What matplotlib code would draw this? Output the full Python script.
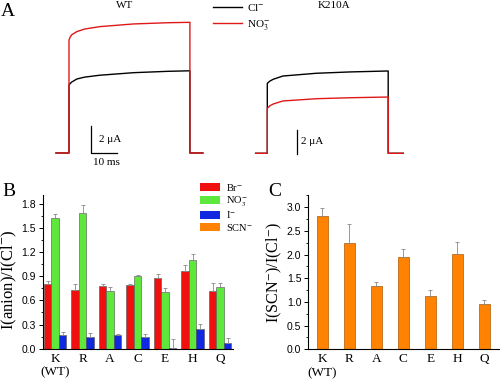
import numpy as np
import matplotlib
matplotlib.use('Agg')
import matplotlib.pyplot as plt
from matplotlib.patches import Patch
from matplotlib.ticker import MultipleLocator

plt.rcParams['font.family'] = ['Liberation Serif', 'DejaVu Serif']
plt.rcParams['mathtext.fontset'] = 'stix'

# panel A traces (time in ms from pulse onset, current in uA)
wt_t = [-5, 0, 0, 0.5, 1, 3, 6, 11.8, 24.9, 38, 46.5, 46.5, 51.5]
wt_cl = [0, 0, 5.04, 5.15, 5.25, 5.48, 5.62, 5.76, 5.95, 6.05, 6.09, 0, 0]
wt_no3 = [0, 0, 8.37, 8.6, 8.75, 8.99, 9.18, 9.36, 9.56, 9.65, 9.68, 0, 0]

k_t = [-4.5, 0, 0, 1, 2.3, 6.0, 18.9, 31.8, 46.5, 46.5, 52.3]
k_cl = [0, 0, 5.83, 6.02, 6.17, 6.44, 6.67, 6.78, 6.86, 0, 0]
k_no3 = [0, 0, 3.75, 3.96, 4.11, 4.36, 4.55, 4.63, 4.69, 0, 0]

# panel B
mutants = ['K\n(WT)', 'R', 'A', 'C', 'E', 'H', 'Q']
br = [0.81, 0.73, 0.78, 0.79, 0.88, 0.96, 0.72]
br_err = [0.03, 0.08, 0.03, 0.02, 0.05, 0.08, 0.10]
no3 = [1.63, 1.69, 0.72, 0.90, 0.71, 1.10, 0.77]
no3_err = [0.04, 0.10, 0.05, 0.02, 0.04, 0.08, 0.05]
iod = [0.17, 0.15, 0.17, 0.14, 0.01, 0.24, 0.07]
iod_err = [0.04, 0.04, 0.01, 0.04, 0.11, 0.07, 0.06]

# panel C
scn = [2.81, 2.25, 1.34, 1.95, 1.12, 2.01, 0.95]
scn_err = [0.17, 0.39, 0.08, 0.16, 0.13, 0.26, 0.10]

c_br, c_no3, c_i, c_scn = '#f01010', '#5fe83c', '#1028e0', '#ff8200'

fig = plt.figure(figsize=(5, 3.81), dpi=100)

# ---- panel A ----
top_h = 170 / 381
ax_wt = fig.add_axes([0, 1 - top_h, 0.5, top_h])
ax_wt.set_xlim(-69 / 2.6, (250 - 69) / 2.6)
ax_wt.set_ylim(-17 / 13.5, 153 / 13.5)
ax_wt.axis('off')
l_cl, = ax_wt.plot(wt_t, wt_cl, color='black', lw=1.0)
l_no3, = ax_wt.plot(wt_t, wt_no3, color='#e01818', lw=1.0)
ax_wt.plot([8.5, 8.5, 18.5], [2, 0, 0], color='black', lw=0.9)
ax_wt.text(11.5, 1.0, '2 μA', fontsize=8, ha='left', va='center', family=['Liberation Serif', 'DejaVu Sans'])
ax_wt.text(9.2, -0.67, '10 ms', fontsize=8, ha='left', va='center')

ax_k = fig.add_axes([0.5, 1 - top_h, 0.5, top_h])
ax_k.set_xlim(-(267.3 - 250) / 2.6, (500 - 267.3) / 2.6)
ax_k.set_ylim(-(170 - 153.3) / 12, 153.3 / 12)
ax_k.axis('off')
ax_k.plot(k_t, k_cl, color='black', lw=1.0)
ax_k.plot(k_t, k_no3, color='#e01818', lw=1.0)
ax_k.plot([11.4, 11.4], [-0.05, 1.95], color='black', lw=0.9)
ax_k.text(13.0, 1.0, '2 μA', fontsize=8, ha='left', va='center', family=['Liberation Serif', 'DejaVu Sans'])

fig.text(8 / 500, 1 - 12 / 381, 'A', fontsize=14, ha='center', va='center')
fig.text(125 / 500, 1 - 6 / 381, 'WT', fontsize=8, ha='center', va='center')
fig.text(334 / 500, 1 - 6 / 381, 'K210A', fontsize=8, ha='center', va='center')
fig.legend([l_cl, l_no3], ['Cl$^{-}$', 'NO$_3^{-}$'], loc='upper left',
           bbox_to_anchor=(213 / 500, 1 - 2 / 381), frameon=False, fontsize=8,
           handlelength=2.6, handletextpad=0.5, labelspacing=0.45, borderpad=0,
           borderaxespad=0)

# ---- panel B ----
x = np.arange(len(mutants))
w = 0.27
axB = fig.add_axes([43 / 500, 1 - 348.7 / 381, 190 / 500, (348.7 - 195) / 381])
for off, vals, errs, col in [(-w, br, br_err, c_br), (0, no3, no3_err, c_no3), (w, iod, iod_err, c_i)]:
    axB.bar(x + off, vals, width=w, color=col, edgecolor='#505050', linewidth=0.4, zorder=2)
    axB.errorbar(x + off, vals, yerr=[np.zeros(len(vals)), errs], fmt='none',
                 ecolor='#888888', elinewidth=0.6, capsize=1.5, capthick=0.6, zorder=3)
axB.set_xlim(-0.44, 6.47)
axB.set_ylim(0, 1.91)
axB.yaxis.set_major_locator(MultipleLocator(0.3))
axB.yaxis.set_minor_locator(MultipleLocator(0.15))
axB.set_xticks(x)
axB.set_xticklabels(mutants, fontsize=9.5, linespacing=1.15)
axB.tick_params(axis='x', length=0, pad=3)
axB.tick_params(axis='y', labelsize=7.5, length=3, width=0.7, pad=2)
axB.tick_params(axis='y', which='minor', length=1.8, width=0.6)
axB.set_yticklabels([f'{v:.1f}' for v in axB.get_yticks()])
for lab in axB.get_yticklabels():
    lab.set_family('Liberation Sans')
for s in ['top', 'right']:
    axB.spines[s].set_visible(False)
for s in ['left', 'bottom']:
    axB.spines[s].set_linewidth(0.8)
axB.set_ylabel('I(anion)/I(Cl$^{-}$)', fontsize=12)
axB.yaxis.set_label_coords(-0.125, 0.45)
fig.text(9 / 500, 1 - 191 / 381, 'B', fontsize=14, ha='center', va='center')

handles = [Patch(facecolor=c, edgecolor='none') for c in [c_br, c_no3, c_i, c_scn]]
fig.legend(handles, ['Br$^{-}$', 'NO$_3^{-}$', 'I$^{-}$', 'SCN$^{-}$'], loc='upper left',
           bbox_to_anchor=(200 / 500, 1 - 182 / 381), frameon=False, fontsize=7.5,
           handlelength=1.9, handleheight=0.8, handletextpad=0.6, labelspacing=0.12,
           borderpad=0, borderaxespad=0)

# ---- panel C ----
axC = fig.add_axes([308.3 / 500, 1 - 349.3 / 381, 191.5 / 500, (349.3 - 195) / 381])
axC.bar(x, scn, width=0.41, color=c_scn, edgecolor='#b05a00', linewidth=0.5, zorder=2)
axC.errorbar(x, scn, yerr=[np.zeros(len(scn)), scn_err], fmt='none',
             ecolor='#888888', elinewidth=0.6, capsize=1.5, capthick=0.6, zorder=3)
axC.set_xlim(-0.51, 6.57)
axC.set_ylim(0, 3.26)
axC.yaxis.set_major_locator(MultipleLocator(0.5))
axC.yaxis.set_minor_locator(MultipleLocator(0.25))
axC.set_xticks(x)
axC.set_xticklabels(mutants, fontsize=9.5, linespacing=1.15)
axC.tick_params(axis='x', length=0, pad=3)
axC.tick_params(axis='y', labelsize=7.5, length=3, width=0.7, pad=2)
axC.tick_params(axis='y', which='minor', length=1.8, width=0.6)
for lab in axC.get_yticklabels():
    lab.set_family('Liberation Sans')
for s in ['top', 'right']:
    axC.spines[s].set_visible(False)
for s in ['left', 'bottom']:
    axC.spines[s].set_linewidth(0.8)
axC.set_ylabel('I(SCN$^{-}$)/I(Cl$^{-}$)', fontsize=11.5, labelpad=2)
fig.text(275 / 500, 1 - 192 / 381, 'C', fontsize=14, ha='center', va='center')

fig.savefig('out.png', dpi=100)
